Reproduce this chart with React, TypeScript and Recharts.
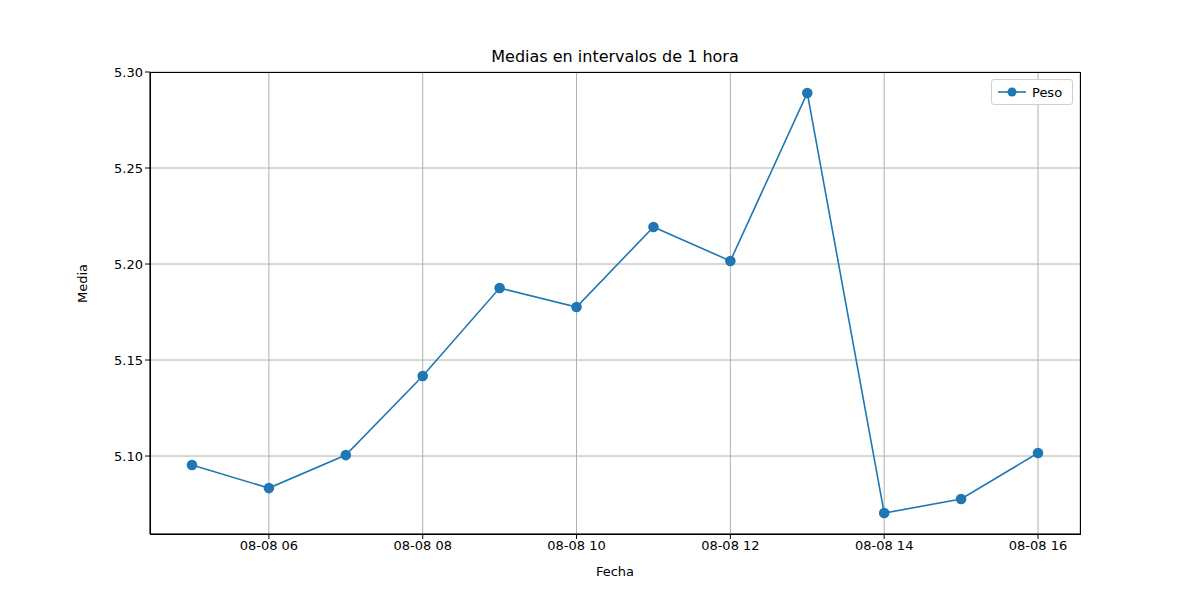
import { LineChart, Line, XAxis, YAxis, CartesianGrid } from 'recharts';

const hours = [5, 6, 7, 8, 9, 10, 11, 12, 13, 14, 15, 16];
const peso = [5.0953, 5.0833, 5.1005, 5.1417, 5.1875, 5.1776, 5.2193, 5.2016, 5.2891, 5.0703, 5.0776, 5.1016];
const xTicks = [6, 8, 10, 12, 14, 16];
const yTicks = [5.1, 5.15, 5.2, 5.25, 5.3];

const data = hours.map((h, i) => ({ hour: h, peso: peso[i] }));
const font = 'DejaVu Sans, sans-serif';
const blue = '#1f77b4';

export default function App() {
  return (
    <div style={{ position: 'absolute', left: 0, top: 0, width: 1200, height: 600, background: '#fff', fontFamily: font }}>
      <div style={{ position: 'absolute', top: 47, width: 1230, textAlign: 'center', fontSize: 16 }}>
        Medias en intervalos de 1 hora
      </div>
      <LineChart width={1200} height={600} data={data} margin={{ top: 72, right: 120, bottom: 0, left: 0 }}>
        <CartesianGrid stroke="#b0b0b0" strokeWidth={1} />
        <XAxis
          dataKey="hour"
          type="number"
          domain={[4.454, 16.546]}
          ticks={xTicks}
          height={66}
          tickFormatter={(v) => `08-08 ${String(v).padStart(2, '0')}`}
          tick={{ fill: '#000', fontSize: 13, fontFamily: font }}
          stroke="#000"
          tickSize={5}
          label={{ value: 'Fecha', position: 'insideBottom', offset: 24, fill: '#000', fontSize: 13, fontFamily: font }}
        />
        <YAxis
          type="number"
          domain={[5.0594, 5.3]}
          ticks={yTicks}
          width={150}
          allowDataOverflow
          tickFormatter={(v) => v.toFixed(2)}
          tick={{ fill: '#000', fontSize: 13, fontFamily: font }}
          stroke="#000"
          tickSize={5}
          label={{ value: 'Media', angle: -90, position: 'insideLeft', offset: 82, fill: '#000', fontSize: 13, fontFamily: font }}
        />
        <Line
          dataKey="peso"
          stroke={blue}
          strokeWidth={1.6}
          dot={{ r: 4.5, fill: blue, stroke: blue }}
          isAnimationActive={false}
        />
      </LineChart>
      <div style={{ position: 'absolute', left: 150, top: 72, width: 929, height: 461, border: '1px solid #000', pointerEvents: 'none' }} />
      <div style={{ position: 'absolute', left: 991, top: 79, width: 80, height: 24, border: '1px solid #d0d0d0', borderRadius: 3, background: '#fff', display: 'flex', alignItems: 'center', fontSize: 13 }}>
        <svg width={36} height={20} style={{ marginLeft: 4 }}>
          <line x1={2} y1={10} x2={30} y2={10} stroke={blue} strokeWidth={1.6} />
          <circle cx={16} cy={10} r={4.5} fill={blue} />
        </svg>
        <span>Peso</span>
      </div>
    </div>
  );
}
